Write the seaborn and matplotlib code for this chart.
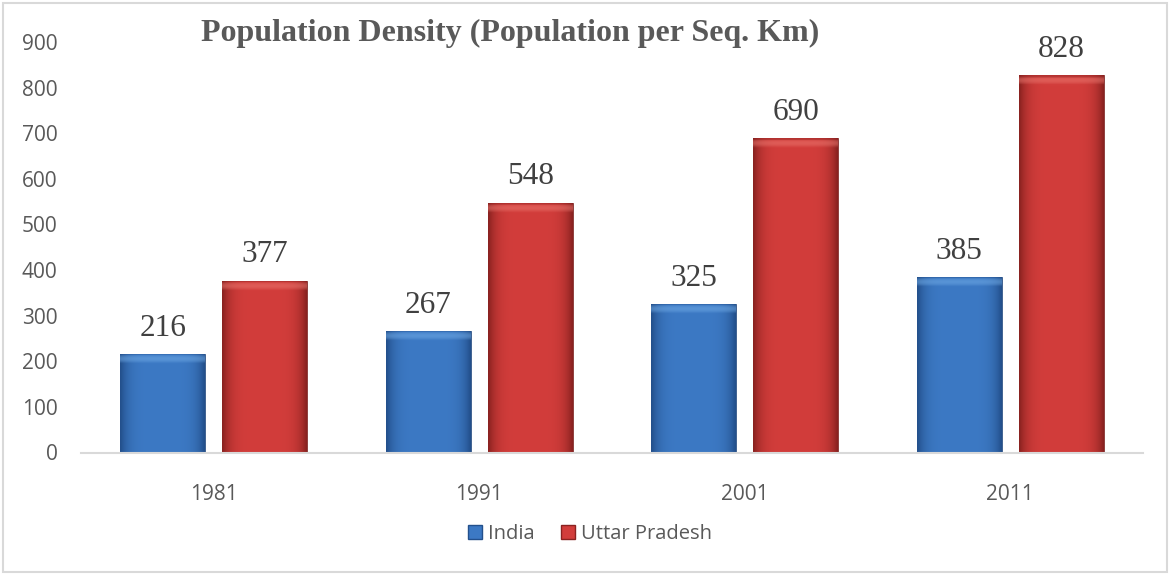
import matplotlib
matplotlib.use("Agg")
import matplotlib.pyplot as plt
from matplotlib.patches import Patch, Rectangle
import numpy as np
import pandas as pd
import seaborn as sns

years = ["1981", "1991", "2001", "2011"]
india = [216, 267, 325, 385]
uttar_pradesh = [377, 548, 690, 828]
series = ["India", "Uttar Pradesh"]
yticks = [0, 100, 200, 300, 400, 500, 600, 700, 800, 900]

base_colors = {"India": "#3c79c4", "Uttar Pradesh": "#d23d3b"}
edge_colors = {"India": "#23508c", "Uttar Pradesh": "#8a2220"}
top_colors = {"India": "#74aee8", "Uttar Pradesh": "#ec7a72"}

df = pd.DataFrame({
    "year": years * 2,
    "value": india + uttar_pradesh,
    "series": [series[0]] * 4 + [series[1]] * 4,
})

sns.set_theme(style="white")
plt.rcParams["font.family"] = ["Open Sans", "DejaVu Sans"]

fig = plt.figure(figsize=(11.75, 5.74), dpi=100)
ax = fig.add_axes([81 / 1175, 1 - 452.5 / 574, 1062 / 1175, 410.5 / 574])

sns.barplot(data=df, x="year", y="value", hue="series", order=years,
            hue_order=series, palette=base_colors, width=0.768, gap=0.167,
            legend=False, ax=ax)


def hex_rgb(c):
    return np.array(matplotlib.colors.to_rgb(c))


# fake the Excel bevel look: darker sides and a soft light strip on top
px_per_unit = 410.5 / 900
for i, bar in enumerate(ax.patches):
    name = series[i // 4]
    x0, y0 = bar.get_x(), bar.get_y()
    w, h = bar.get_width(), bar.get_height()
    base = hex_rgb(base_colors[name])
    edge = hex_rgb(edge_colors[name])
    top = hex_rgb(top_colors[name])
    nx, ny = 60, 300
    t = np.linspace(0, 1, nx)
    side = np.clip(np.abs(2 * t - 1) ** 5, 0, 1)
    row = base[None, :] * (1 - side[:, None]) + edge[None, :] * side[:, None]
    img = np.repeat(row[None, :, :], ny, axis=0)
    ypix = np.linspace(0, h * px_per_unit, ny)
    bevel = 9.0
    frac = np.clip((ypix - (h * px_per_unit - bevel)) / bevel, 0, 1)
    for j in np.where(frac > 0)[0]:
        f = 0.5 * np.sin(np.pi * frac[j])
        img[j] = img[j] * (1 - f) + top * f
    img[-2:] = img[-2:] * 0.6 + edge * 0.4
    im = ax.imshow(img, extent=[x0, x0 + w, y0, y0 + h], origin="lower",
                   aspect="auto", zorder=bar.get_zorder(), interpolation="bilinear")
    im.set_clip_path(bar)
    bar.set_facecolor("none")
    bar.set_edgecolor(edge * 0.9)
    bar.set_linewidth(0.6)

    ax.annotate(f"{int(h)}", (x0 + w / 2, y0 + h), xytext=(0, 13),
                textcoords="offset points", ha="center", va="baseline",
                fontsize=22.5, family="Liberation Serif", color="#404040")

ax.set_xlim(-0.5, 3.5)
ax.set_ylim(0, 900)
ax.set_yticks(yticks)
ax.set_xlabel("")
ax.set_ylabel("")
for s in ["left", "top", "right"]:
    ax.spines[s].set_visible(False)
ax.spines["bottom"].set_color("#d9d9d9")
ax.spines["bottom"].set_linewidth(1.5)
ax.tick_params(axis="both", length=0, labelsize=15, labelcolor="#595959")
ax.tick_params(axis="x", pad=23)
ax.tick_params(axis="y", pad=17)

fig.text(510 / 1175, 1 - 41 / 574, "Population Density (Population per Seq. Km)",
         ha="center", va="baseline", fontsize=23, fontweight="bold",
         family="Liberation Serif", color="#595959")

handles = [Patch(facecolor=base_colors[s], edgecolor=edge_colors[s], label=s) for s in series]
fig.legend(handles=handles, loc="center", bbox_to_anchor=(590 / 1175, 1 - 534 / 574),
           ncol=2, frameon=False, fontsize=14.5, handlelength=0.7, handleheight=0.7,
           handletextpad=0.3, columnspacing=1.3, labelcolor="#595959")

fig.patches.append(Rectangle((3 / 1175, 2 / 574), 1164 / 1175, 569 / 574,
                             transform=fig.transFigure, fill=False,
                             edgecolor="#d9d9d9", linewidth=1.5))

fig.savefig("out.png", dpi=100)
